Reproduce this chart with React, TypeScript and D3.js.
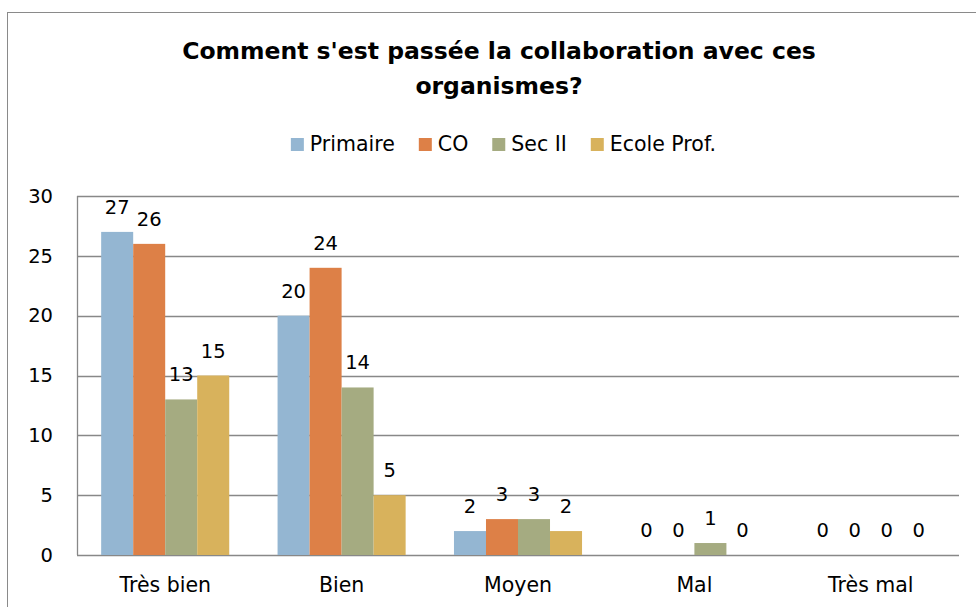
import React, { useEffect, useRef } from "react";
import * as d3 from "d3";

const categories = ["Très bien", "Bien", "Moyen", "Mal", "Très mal"];
const seriesNames = ["Primaire", "CO", "Sec II", "Ecole Prof."];
const primaire = [27, 20, 2, 0, 0];
const co = [26, 24, 3, 0, 0];
const secII = [13, 14, 3, 1, 0];
const ecoleProf = [15, 5, 2, 0, 0];
const yTicks = [0, 5, 10, 15, 20, 25, 30];
const colors = ["#94B6D2", "#DD8047", "#A5AB81", "#D8B25C"];
const titleLines = ["Comment s'est passée la collaboration avec ces", "organismes?"];

const W = 976;
const H = 607;
const FONT = "'DejaVu Sans', sans-serif";

export default function App() {
  const ref = useRef<SVGSVGElement | null>(null);

  useEffect(() => {
    const svg = d3.select(ref.current);
    svg.selectAll("*").remove();
    const series = [primaire, co, secII, ecoleProf];

    const plot = { left: 77, right: 959, top: 196, bottom: 555 };

    svg.append("rect").attr("x", 0).attr("y", 0).attr("width", W).attr("height", H).attr("fill", "#fff");
    svg.append("rect").attr("x", 7.5).attr("y", 12.5).attr("width", 1000).attr("height", 700)
      .attr("fill", "none").attr("stroke", "#8a8a8a").attr("stroke-width", 1);

    // title
    titleLines.forEach((t, i) => {
      svg.append("text").attr("x", 499).attr("y", 59 + i * 35).attr("text-anchor", "middle")
        .attr("font-family", FONT).attr("font-weight", "bold").attr("font-size", 23.5).attr("fill", "#000").text(t);
    });

    const x0 = d3.scaleBand<string>().domain(categories).range([plot.left, plot.right]).paddingInner(0).paddingOuter(0);
    const groupW = x0.bandwidth() * 0.726;
    const x1 = d3.scaleBand<string>().domain(seriesNames).range([0, groupW]).padding(0);
    const y = d3.scaleLinear().domain([0, 30]).range([plot.bottom, plot.top]);

    // gridlines
    svg.append("g").selectAll("line").data(yTicks).join("line")
      .attr("x1", plot.left).attr("x2", plot.right)
      .attr("y1", (d) => Math.round(y(d)) + 0.5).attr("y2", (d) => Math.round(y(d)) + 0.5)
      .attr("stroke", "#888").attr("stroke-width", 1.3);
    svg.append("line").attr("x1", plot.left + 0.5).attr("x2", plot.left + 0.5)
      .attr("y1", plot.top).attr("y2", plot.bottom).attr("stroke", "#888").attr("stroke-width", 1.3);

    // y labels
    svg.append("g").selectAll("text").data(yTicks).join("text")
      .attr("x", 53).attr("y", (d) => y(d)).attr("dy", "0.35em").attr("text-anchor", "end")
      .attr("font-family", FONT).attr("font-size", 19.5).attr("fill", "#000").text((d) => String(d));

    // bars
    const g = svg.append("g");
    categories.forEach((c, ci) => {
      const gx = (x0(c) as number) + (x0.bandwidth() - groupW) / 2;
      series.forEach((s, si) => {
        const v = s[ci];
        const bx = gx + (x1(seriesNames[si]) as number);
        if (v > 0) {
          g.append("rect").attr("x", bx).attr("y", y(v)).attr("width", x1.bandwidth())
            .attr("height", y(0) - y(v)).attr("fill", colors[si]);
        }
        g.append("text").attr("x", bx + x1.bandwidth() / 2).attr("y", y(v) - 18)
          .attr("text-anchor", "middle").attr("font-family", FONT).attr("font-size", 19.5)
          .attr("fill", "#000").text(String(v));
      });
      svg.append("text").attr("x", (x0(c) as number) + x0.bandwidth() / 2).attr("y", 592)
        .attr("text-anchor", "middle").attr("font-family", FONT).attr("font-size", 20.5)
        .attr("fill", "#000").text(c);
    });

    // legend
    const lg = svg.append("g");
    const items = seriesNames.map((n, i) => {
      const it = lg.append("g");
      it.append("rect").attr("x", 0).attr("y", 138).attr("width", 13).attr("height", 13).attr("fill", colors[i]);
      const t = it.append("text").attr("x", 19).attr("y", 151).attr("font-family", FONT)
        .attr("font-size", 20.5).attr("fill", "#000").text(n);
      const w = (t.node() as SVGTextElement).getComputedTextLength();
      return { it, w: 19 + w };
    });
    const gap = 24;
    const total = items.reduce((a, b) => a + b.w, 0) + gap * (items.length - 1);
    let cx = 503.5 - total / 2;
    items.forEach(({ it, w }) => {
      it.attr("transform", `translate(${cx},0)`);
      cx += w + gap;
    });
  }, []);

  return (
    <svg ref={ref} width={W} height={H} style={{ position: "absolute", left: 0, top: 0 }} />
  );
}
